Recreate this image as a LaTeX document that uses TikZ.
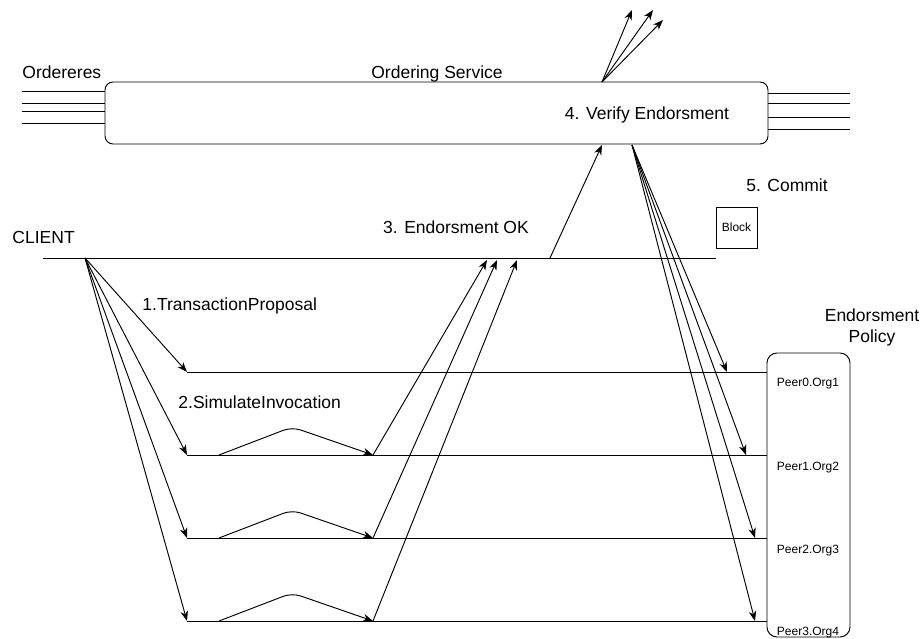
\documentclass[tikz,border=0pt]{standalone}
\usepackage{fontspec}
\setmainfont{Liberation Sans}
\usetikzlibrary{arrows.meta}
\begin{document}
\begin{tikzpicture}[x=1pt,y=-1pt,
  line width=0.95pt,
  big/.style={font=\fontsize{17.5}{21}\selectfont, inner sep=0pt},
  small/.style={font=\fontsize{12}{14}\selectfont, inner sep=0pt},
  msg/.style={-{Stealth[length=10pt,width=7.5pt,inset=3pt]}},
  bump/.style={msg, rounded corners=9pt},
]
\useasboundingbox[fill=white] (0,0) rectangle (922,639);

% ordering service, block and endorsement policy boxes
\node[draw, rounded corners=8pt, minimum width=663pt, minimum height=62pt,
      inner sep=0pt, outer sep=0pt] (os) at (436.5,113) {};
\node[draw, rounded corners=10pt, minimum width=83pt, minimum height=284pt,
      inner sep=0pt, outer sep=0pt] (pol) at (808.5,495) {};
\node[draw, minimum size=41pt, inner sep=0pt, outer sep=0pt, small]
      (blk) at (736.5,227.5) {Block};

% labels
\node[big, anchor=base west] (tord) at (22,79) {Ordereres};
\node[big, anchor=base] (tos) at (437,79) {Ordering Service};
\node[big, anchor=base] (tver) at (647,120) {4. Verify Endorsment};
\node[big, anchor=base] (tcom) at (787,192) {5. Commit};
\node[big, anchor=base] (tok) at (456,234) {3. Endorsment OK};
\node[big, anchor=base west] (tcli) at (12,244) {CLIENT};
\node[big, anchor=base west] (ttp) at (142,311) {1.TransactionProposal};
\node[big, anchor=base west] (tsi) at (178,409) {2.SimulateInvocation};
\node[big, anchor=base] (tpol1) at (872,322) {Endorsment};
\node[big, anchor=base] (tpol2) at (872,342) {Policy};
\node[small, anchor=base] (p0) at (808,387) {Peer0.Org1};
\node[small, anchor=base] (p1) at (808,470) {Peer1.Org2};
\node[small, anchor=base] (p2) at (808,553) {Peer2.Org3};
\node[small, anchor=base] (p3) at (808,635) {Peer3.Org4};

% orderer stubs on both sides of the ordering service
\foreach \y in {91,103,111,123} \draw (22,\y) -- (os.west |- 0,\y);
\foreach \y in {93,103,117,129} \draw (os.east |- 0,\y) -- (850,\y);

% client timeline
\coordinate (cl) at (43,258);
\coordinate (c0) at (85,258);
\draw (cl) -- (cl -| blk.west);

% peer timelines
\foreach \i/\y in {0/372,1/455,2/538,3/621} {
  \coordinate (s\i) at (187,\y);
  \coordinate (r\i) at (373,\y);
  \draw (s\i) -- (s\i -| pol.west);
}

% 1. transaction proposal
\foreach \i in {0,1,2,3} \draw[msg] (c0) -- (s\i);

% 2. simulated invocation
\foreach \i in {1,2,3} \draw[bump] (s\i) ++(32,0) -- ++(73,-28) -- (r\i);

% 3. endorsements back to the client
\coordinate (e1) at (487,260);
\coordinate (e2) at (497,260);
\coordinate (e3) at (517,260);
\foreach \i in {1,2,3} \draw[msg] (r\i) -- (e\i);

% submit to ordering
\coordinate (sub) at (550,258);
\draw[msg] (sub) -- (602,145);

% broadcast from the ordering service
\coordinate (ob) at (602,82);
\coordinate (u1) at (632,10);
\coordinate (u2) at (653,10);
\coordinate (u3) at (663,20);
\foreach \i in {1,2,3} \draw[msg] (ob) -- (u\i);

% 5. commit to the peers
\coordinate (vo) at (632,145);
\coordinate (d0) at (727,372);
\coordinate (d1) at (746,455);
\coordinate (d2) at (755,538);
\coordinate (d3) at (755,621);
\foreach \i in {0,1,2,3} \draw[msg] (vo) -- (d\i);
\end{tikzpicture}
\end{document}
